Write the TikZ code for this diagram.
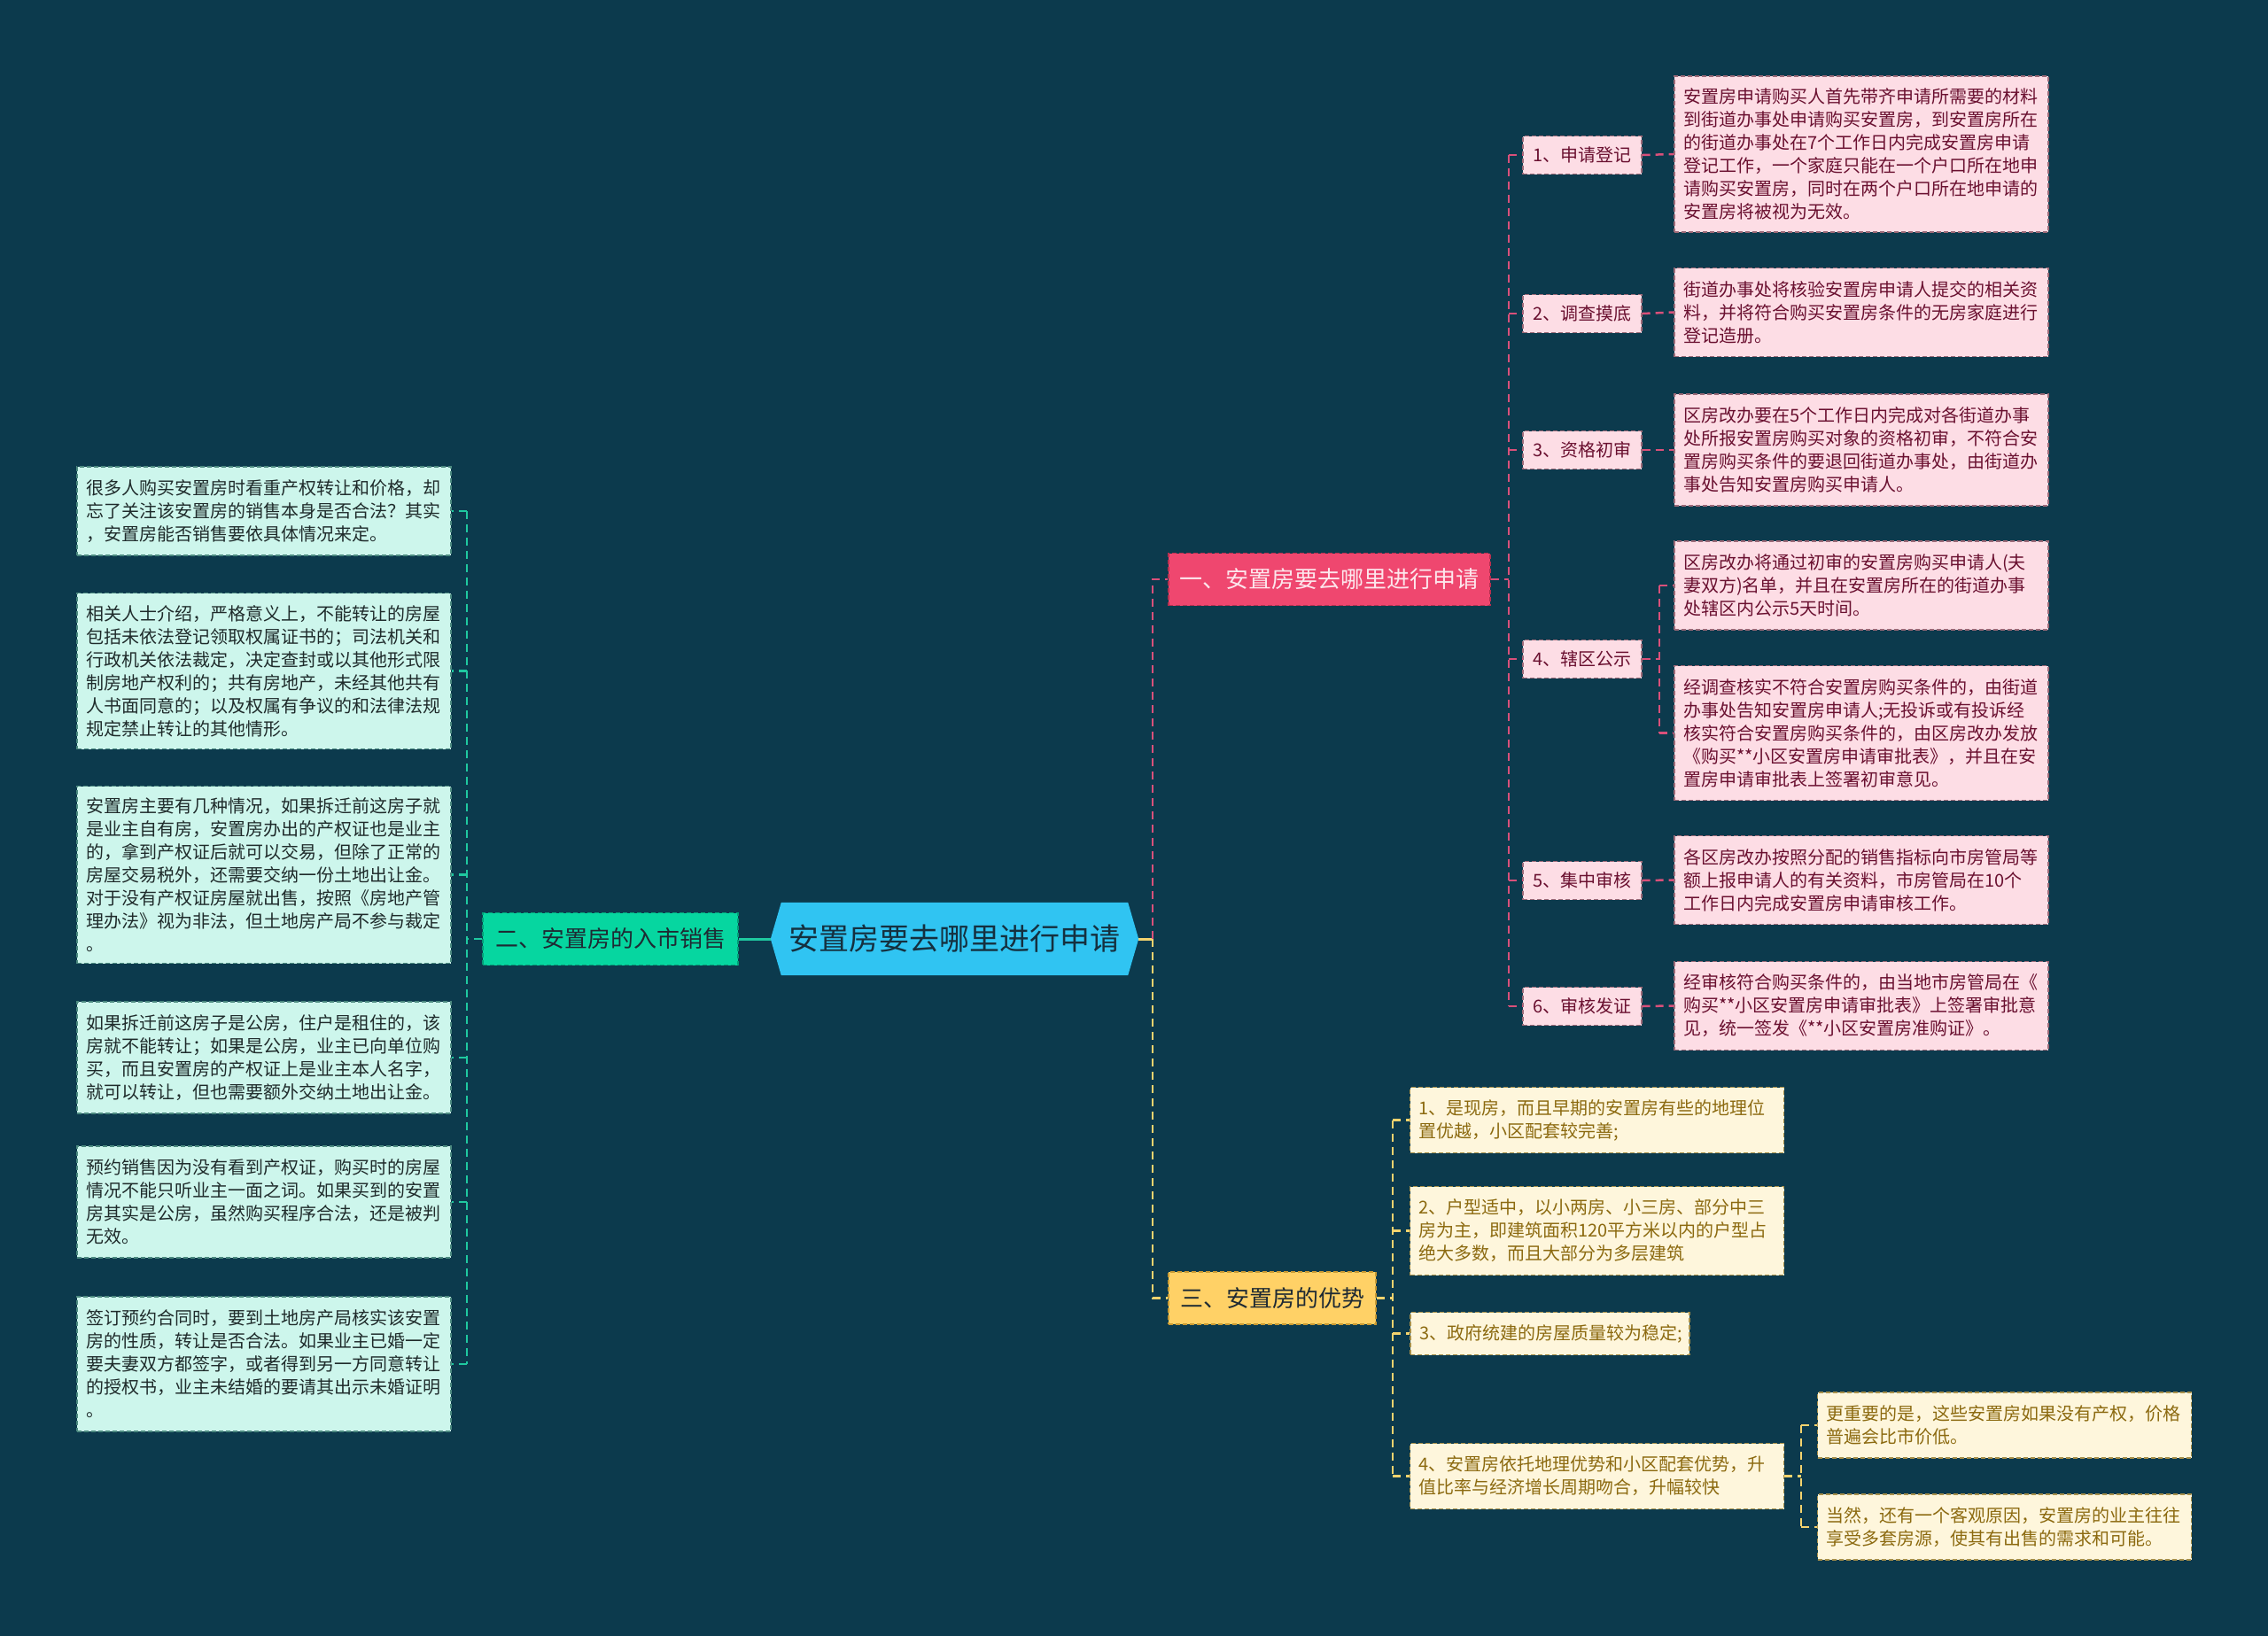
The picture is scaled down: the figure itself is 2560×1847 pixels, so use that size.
\documentclass[tikz,border=0pt]{standalone}
\usepackage{fontspec}
\setmainfont{Noto Sans CJK SC}
\usetikzlibrary{calc}
\definecolor{bg}{HTML}{0C3A4D}
\definecolor{rootfill}{HTML}{30C4F2}
\definecolor{roottext}{HTML}{15303F}
\definecolor{bonefill}{HTML}{EF476F}
\definecolor{bonetext}{HTML}{FDE6EC}
\definecolor{bonedraw}{HTML}{B8304F}
\definecolor{btwofill}{HTML}{06D6A0}
\definecolor{btwodraw}{HTML}{049C76}
\definecolor{bthrfill}{HTML}{FFD166}
\definecolor{bthrdraw}{HTML}{C99A33}
\definecolor{darktext}{HTML}{1E2A33}
\definecolor{pinkfill}{HTML}{FDDDE5}
\definecolor{pinkdraw}{HTML}{9C6A78}
\definecolor{pinktext}{HTML}{6A1030}
\definecolor{mintfill}{HTML}{CDF6EC}
\definecolor{mintdraw}{HTML}{4C8A80}
\definecolor{minttext}{HTML}{1F2B2B}
\definecolor{creamfill}{HTML}{FEF6DC}
\definecolor{creamdraw}{HTML}{A8904A}
\definecolor{creamtext}{HTML}{8C6A10}
\definecolor{cpink}{HTML}{D9507A}
\definecolor{cgreen}{HTML}{1FC9A0}
\definecolor{cyellow}{HTML}{F4D36E}
\tikzset{
  conn/.style={line width=2.5pt, dash pattern=on 9pt off 6pt},
  pinkconn/.style={conn, draw=cpink},
  greenconn/.style={conn, draw=cgreen},
  yellowconn/.style={conn, draw=cyellow},
  boxdash/.style={dash pattern=on 5pt off 3pt, line width=1.4pt},
  leafbase/.style={boxdash, font=\fontsize{20}{26}\selectfont, align=left,
    text width=402pt, inner xsep=10pt, inner ysep=4pt},
  pinkleaf/.style={leafbase, draw=pinkdraw, fill=pinkfill, text=pinktext},
  mintleaf/.style={leafbase, draw=mintdraw, fill=mintfill, text=minttext},
  creamleaf/.style={leafbase, draw=creamdraw, fill=creamfill, text=creamtext},
  pinklabel/.style={boxdash, draw=pinkdraw, fill=pinkfill, text=pinktext,
    font=\fontsize{20}{26}\selectfont, minimum width=134pt, minimum height=43pt, inner sep=0pt},
  branch/.style={boxdash, font=\fontsize{26}{30}\selectfont, minimum height=59pt, inner xsep=12pt, inner ysep=0pt},
  hone/.style={minimum height=48pt},
  htwo/.style={minimum height=74pt},
  hthree/.style={minimum height=100pt},
  hfour/.style={minimum height=126pt},
  hfive/.style={minimum height=152pt},
  hsix/.style={minimum height=176pt},
  hseven/.style={minimum height=200pt},
}
\begin{document}
\begin{tikzpicture}[x=1pt,y=-1pt]
\fill[bg] (0,0) rectangle (2560,1847);
\useasboundingbox (0,0) rectangle (2560,1847);

% ---------- root ----------
\node[minimum width=415pt, minimum height=82pt, inner sep=0pt] (root) at (1077.5,1060) {};
\fill[rootfill] (root.west) -- ([xshift=12pt]root.north west) -- ([xshift=-12pt]root.north east)
  -- (root.east) -- ([xshift=-12pt]root.south east) -- ([xshift=12pt]root.south west) -- cycle;
\node[font=\fontsize{34}{40}\selectfont, text=roottext, inner sep=0pt] (roottxt) at (root.center) {安置房要去哪里进行申请};

% ---------- branches ----------
\node[branch, draw=bonedraw, fill=bonefill, text=bonetext, minimum width=363pt] (b1) at (1500.5,654) {一、安置房要去哪里进行申请};
\node[branch, draw=btwodraw, fill=btwofill, text=darktext, minimum width=288pt] (b2) at (689,1060) {二、安置房的入市销售};
\node[branch, draw=bthrdraw, fill=bthrfill, text=darktext, minimum width=234pt] (b3) at (1436,1465.5) {三、安置房的优势};

% ---------- branch 1 labels ----------
\node[pinklabel] (l1) at (1786,175) {1、申请登记};
\node[pinklabel] (l2) at (1786,354) {2、调查摸底};
\node[pinklabel] (l3) at (1786,508) {3、资格初审};
\node[pinklabel] (l4) at (1786,744) {4、辖区公示};
\node[pinklabel] (l5) at (1786,994) {5、集中审核};
\node[pinklabel] (l6) at (1786,1136) {6、审核发证};

% ---------- branch 1 leaves ----------
\node[pinkleaf, hsix] (r1) at (2101,174) {安置房申请购买人首先带齐申请所需要的材料\\到街道办事处申请购买安置房，到安置房所在\\的街道办事处在7个工作日内完成安置房申请\\登记工作，一个家庭只能在一个户口所在地申\\请购买安置房，同时在两个户口所在地申请的\\安置房将被视为无效。};
\node[pinkleaf, hthree] (r2) at (2101,352.5) {街道办事处将核验安置房申请人提交的相关资\\料，并将符合购买安置房条件的无房家庭进行\\登记造册。};
\node[pinkleaf, hfour] (r3) at (2101,508) {区房改办要在5个工作日内完成对各街道办事\\处所报安置房购买对象的资格初审，不符合安\\置房购买条件的要退回街道办事处，由街道办\\事处告知安置房购买申请人。};
\node[pinkleaf, hthree] (r4a) at (2101,661) {区房改办将通过初审的安置房购买申请人(夫\\妻双方)名单，并且在安置房所在的街道办事\\处辖区内公示5天时间。};
\node[pinkleaf, hfive] (r4b) at (2101,827.5) {经调查核实不符合安置房购买条件的，由街道\\办事处告知安置房申请人;无投诉或有投诉经\\核实符合安置房购买条件的，由区房改办发放\\《购买**小区安置房申请审批表》，并且在安\\置房申请审批表上签署初审意见。};
\node[pinkleaf, hthree] (r5) at (2101,993.5) {各区房改办按照分配的销售指标向市房管局等\\额上报申请人的有关资料，市房管局在10个\\工作日内完成安置房申请审核工作。};
\node[pinkleaf, hthree] (r6) at (2101,1135.5) {经审核符合购买条件的，由当地市房管局在《\\购买**小区安置房申请审批表》上签署审批意\\见，统一签发《**小区安置房准购证》。};

% ---------- branch 2 leaves ----------
\node[mintleaf, hthree] (g1) at (298,577) {很多人购买安置房时看重产权转让和价格，却\\忘了关注该安置房的销售本身是否合法？其实\\，安置房能否销售要依具体情况来定。};
\node[mintleaf, hsix] (g2) at (298,757.5) {相关人士介绍，严格意义上，不能转让的房屋\\包括未依法登记领取权属证书的；司法机关和\\行政机关依法裁定，决定查封或以其他形式限\\制房地产权利的；共有房地产，未经其他共有\\人书面同意的；以及权属有争议的和法律法规\\规定禁止转让的其他情形。};
\node[mintleaf, hseven] (g3) at (298,987.5) {安置房主要有几种情况，如果拆迁前这房子就\\是业主自有房，安置房办出的产权证也是业主\\的，拿到产权证后就可以交易，但除了正常的\\房屋交易税外，还需要交纳一份土地出让金。\\对于没有产权证房屋就出售，按照《房地产管\\理办法》视为非法，但土地房产局不参与裁定\\。};
\node[mintleaf, hfour] (g4) at (298,1194) {如果拆迁前这房子是公房，住户是租住的，该\\房就不能转让；如果是公房，业主已向单位购\\买，而且安置房的产权证上是业主本人名字，\\就可以转让，但也需要额外交纳土地出让金。};
\node[mintleaf, hfour] (g5) at (298,1357) {预约销售因为没有看到产权证，购买时的房屋\\情况不能只听业主一面之词。如果买到的安置\\房其实是公房，虽然购买程序合法，还是被判\\无效。};
\node[mintleaf, hfive] (g6) at (298,1540) {签订预约合同时，要到土地房产局核实该安置\\房的性质，转让是否合法。如果业主已婚一定\\要夫妻双方都签字，或者得到另一方同意转让\\的授权书，业主未结婚的要请其出示未婚证明\\。};

% ---------- branch 3 leaves ----------
\node[creamleaf, htwo] (y1) at (1802.5,1264.5) {1、是现房，而且早期的安置房有些的地理位\\置优越，小区配套较完善;};
\node[creamleaf, hthree] (y2) at (1802.5,1389.5) {2、户型适中，以小两房、小三房、部分中三\\房为主，即建筑面积120平方米以内的户型占\\绝大多数，而且大部分为多层建筑};
\node[creamleaf, hone, text width=295pt] (y3) at (1749.5,1505.5) {3、政府统建的房屋质量较为稳定;};
\node[creamleaf, htwo] (y4) at (1802.5,1666.5) {4、安置房依托地理优势和小区配套优势，升\\值比率与经济增长周期吻合，升幅较快};
\node[creamleaf, htwo] (y4a) at (2262.5,1609) {更重要的是，这些安置房如果没有产权，价格\\普遍会比市价低。};
\node[creamleaf, htwo] (y4b) at (2262.5,1724) {当然，还有一个客观原因，安置房的业主往往\\享受多套房源，使其有出售的需求和可能。};

% ---------- connectors ----------
\coordinate (rt) at (1301,1060);
\draw[greenconn, solid, line width=3pt] (root.west) -- (b2.east);
\draw[cyellow, line width=3pt] (root.east) -- (rt);
\draw[pinkconn] (rt) |- (b1.west);
\draw[yellowconn] (rt) |- (b3.west);

% branch 1
\coordinate (t1) at (1703,654);
\draw[pinkconn] (b1.east) -- (t1);
\draw[pinkconn] (t1 |- l1.west) -- (t1 |- l6.west);
\foreach \n in {l1,l2,l3,l4,l5,l6} \draw[pinkconn] (t1 |- \n.west) -- (\n.west);
\foreach \a/\b in {l1/r1,l2/r2,l3/r3,l5/r5,l6/r6} \draw[pinkconn] (\a.east) -- (\b.west);
\coordinate (t4) at (1873,744);
\draw[pinkconn] (l4.east) -- (t4);
\draw[pinkconn] (t4 |- r4a.west) -- (t4 |- r4b.west);
\draw[pinkconn] (t4 |- r4a.west) -- (r4a.west);
\draw[pinkconn] (t4 |- r4b.west) -- (r4b.west);

% branch 2
\coordinate (t2) at (527,1060);
\draw[greenconn] (b2.west) -- (t2);
\draw[greenconn] (t2 |- g1.east) -- (t2 |- g6.east);
\foreach \n in {g1,g2,g3,g4,g5,g6} \draw[greenconn] (t2 |- \n.east) -- (\n.east);

% branch 3
\coordinate (t3) at (1572,1465.5);
\draw[yellowconn] (b3.east) -- (t3);
\draw[yellowconn] (t3 |- y1.west) -- (t3 |- y4.west);
\foreach \n in {y1,y2,y3,y4} \draw[yellowconn] (t3 |- \n.west) -- (\n.west);
\coordinate (t5) at (2033,1666.5);
\draw[yellowconn] (y4.east) -- (t5);
\draw[yellowconn] (t5 |- y4a.west) -- (t5 |- y4b.west);
\draw[yellowconn] (t5 |- y4a.west) -- (y4a.west);
\draw[yellowconn] (t5 |- y4b.west) -- (y4b.west);
\end{tikzpicture}
\end{document}
